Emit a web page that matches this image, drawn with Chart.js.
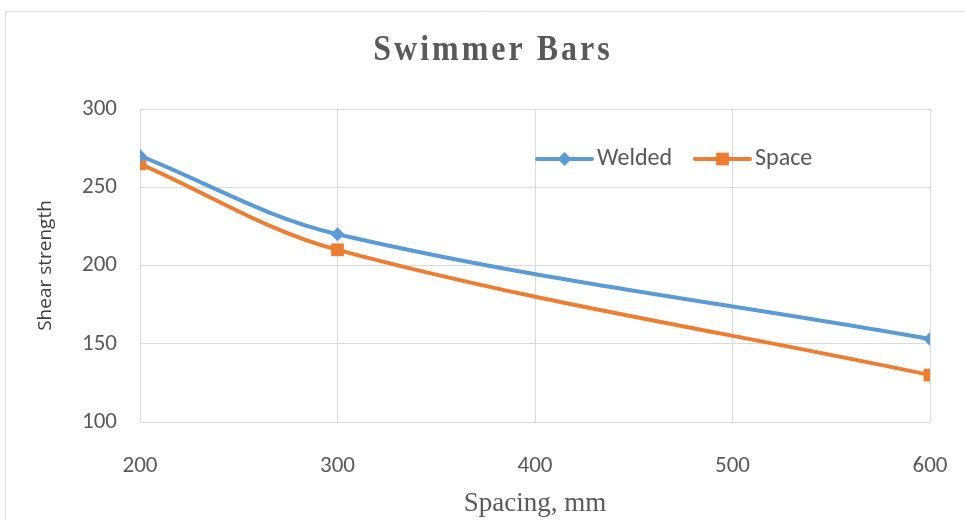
<!DOCTYPE html>
<html>
<head>
<meta charset="utf-8">
<script src="https://cdn.jsdelivr.net/npm/chart.js@4.4.0/dist/chart.umd.min.js"></script>
<style>
  html, body { margin: 0; padding: 0; background: #fff; }
  #wrap { position: relative; width: 965px; height: 520px; }
</style>
</head>
<body>
<div id="wrap"><canvas id="shearChart" width="965" height="520"></canvas></div>
<script>
// data
const spacing = [200, 300, 600];
const welded = [270, 220, 153];
const space = [265, 210, 130];
const xTicks = [200, 300, 400, 500, 600];
const yTicks = [100, 150, 200, 250, 300];

const blue = "#5b9bd5";
const orange = "#ed7d31";
const textGrey = "#595959";
const gridGrey = "#d9d9d9";
const tickFont = "Carlito, 'Open Sans', sans-serif";

// frame, title and in-plot legend, like the Excel chart
const decorations = {
  id: "decorations",
  beforeDraw(chart) {
    const ctx = chart.ctx;
    ctx.save();
    ctx.strokeStyle = gridGrey;
    ctx.lineWidth = 1;
    ctx.beginPath();
    ctx.moveTo(5.5, 525);
    ctx.lineTo(5.5, 11.5);
    ctx.lineTo(970, 11.5);
    ctx.stroke();
    ctx.restore();
  },
  afterDraw(chart) {
    const ctx = chart.ctx;
    ctx.save();
    ctx.fillStyle = textGrey;
    ctx.font = "bold 32px 'Liberation Serif', serif";
    ctx.letterSpacing = "3px";
    ctx.textAlign = "center";
    ctx.textBaseline = "middle";
    ctx.translate(493, 51);
    ctx.scale(1, 1.12);
    ctx.fillText("Swimmer Bars", 0, 0);
    ctx.restore();

    ctx.save();
    const items = [
      { label: "Welded", color: blue, shape: "rectRot", r: 7, x0: 537, x1: 592 },
      { label: "Space", color: orange, shape: "rect", r: 9, x0: 695, x1: 750 }
    ];
    const y = 159;
    items.forEach(it => {
      ctx.strokeStyle = it.color;
      ctx.lineWidth = 4;
      ctx.lineCap = "round";
      ctx.beginPath();
      ctx.moveTo(it.x0, y);
      ctx.lineTo(it.x1, y);
      ctx.stroke();
      ctx.fillStyle = it.color;
      Chart.helpers.drawPoint(ctx, { pointStyle: it.shape, radius: it.r, borderWidth: 0 }, (it.x0 + it.x1) / 2, y);
      ctx.fillStyle = textGrey;
      ctx.font = "24px " + tickFont;
      ctx.textAlign = "left";
      ctx.textBaseline = "middle";
      ctx.fillText(it.label, it.x1 + 5, y);
    });
    ctx.restore();
  }
};

new Chart(document.getElementById("shearChart"), {
  type: "line",
  data: {
    datasets: [
      {
        label: "Welded",
        data: spacing.map((x, i) => ({ x: x, y: welded[i] })),
        borderColor: blue,
        backgroundColor: blue,
        borderWidth: 4,
        tension: 0.35,
        pointStyle: "rectRot",
        pointRadius: 7,
        pointBorderWidth: 0
      },
      {
        label: "Space",
        data: spacing.map((x, i) => ({ x: x, y: space[i] })),
        borderColor: orange,
        backgroundColor: orange,
        borderWidth: 4,
        tension: 0.35,
        pointStyle: "rect",
        pointRadius: 9,
        pointBorderWidth: 0
      }
    ]
  },
  options: {
    responsive: false,
    animation: false,
    layout: { padding: { top: 109, right: 35, left: 0, bottom: 0 } },
    plugins: {
      legend: { display: false },
      title: { display: false },
      tooltip: { enabled: false }
    },
    scales: {
      x: {
        type: "linear",
        min: 200,
        max: 600,
        afterBuildTicks: axis => { axis.ticks = xTicks.map(v => ({ value: v })); },
        afterFit: axis => { axis.height = 98; axis.paddingRight = 0; },
        grid: { color: gridGrey, lineWidth: 1, drawTicks: false },
        border: { display: false },
        ticks: {
          color: textGrey,
          padding: 30,
          maxRotation: 0,
          font: { size: 23, family: tickFont }
        },
        title: {
          display: true,
          text: "Spacing, mm",
          color: textGrey,
          padding: { top: 0, bottom: 0 },
          font: { size: 27, family: "'Liberation Serif', serif" }
        }
      },
      y: {
        min: 100,
        max: 300,
        afterBuildTicks: axis => { axis.ticks = yTicks.map(v => ({ value: v })); },
        afterFit: axis => { axis.width = 140; axis.paddingTop = 0; axis.paddingBottom = 0; },
        grid: { color: gridGrey, lineWidth: 1, drawTicks: false },
        border: { display: false },
        ticks: {
          color: textGrey,
          padding: 23,
          font: { size: 23, family: tickFont }
        },
        title: {
          display: true,
          text: "Shear strength",
          color: "#404040",
          padding: { top: 34, bottom: 0 },
          font: { size: 19, family: "'Open Sans', sans-serif" }
        }
      }
    }
  },
  plugins: [decorations]
});
</script>
</body>
</html>
